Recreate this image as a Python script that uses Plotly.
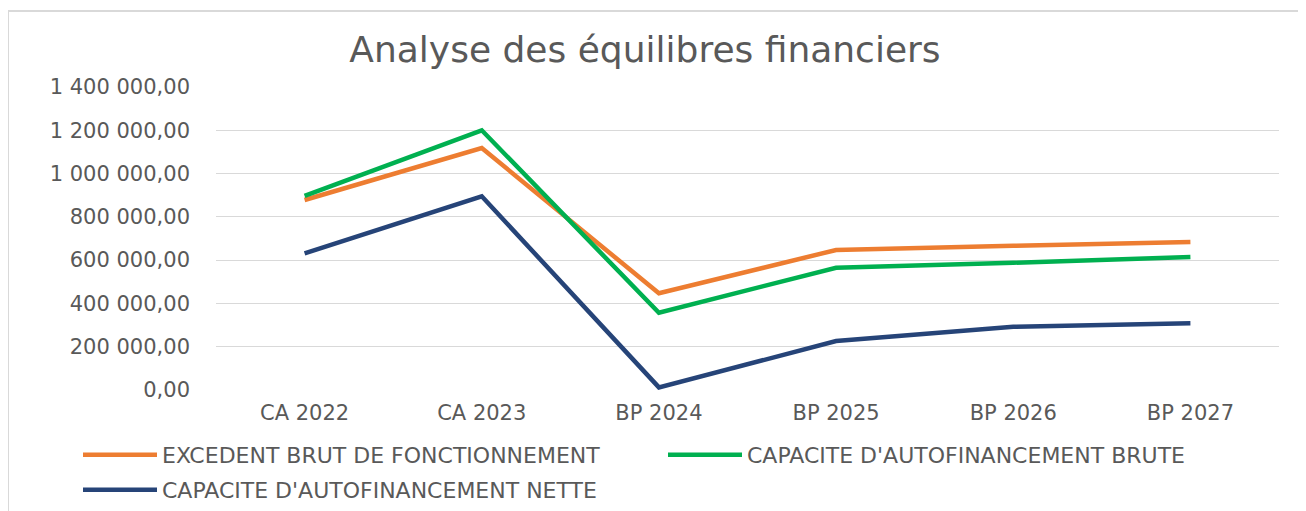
import plotly.graph_objects as go

categories = ["CA 2022", "CA 2023", "BP 2024", "BP 2025", "BP 2026", "BP 2027"]
ebf = [878000, 1118000, 447000, 647000, 666000, 684000]
caf_brute = [897000, 1200000, 357000, 565000, 588000, 614000]
caf_nette = [631000, 895000, 12000, 226000, 292000, 308000]

series_names = ["EXCEDENT BRUT DE FONCTIONNEMENT",
                "CAPACITE D'AUTOFINANCEMENT BRUTE",
                "CAPACITE D'AUTOFINANCEMENT NETTE"]
colors = ["#ED7D31", "#00B050", "#264478"]

W, H = 1306, 511
OFF = 8  # page body margin offset
L, R, T, B = 216, 1279, 87, 390  # plot area in screen pixels
pw, ph = R - L, B - T

def px(p):
    return (p - L) / pw

def py(p):
    return (B - p) / ph

FONT = "DejaVu Sans"
GREY = "#595959"

fig = go.Figure()
fig.add_trace(go.Scatter(x=categories, y=ebf, name=series_names[0], mode="lines",
                         line=dict(color=colors[0], width=4.5), legend="legend"))
fig.add_trace(go.Scatter(x=categories, y=caf_brute, name=series_names[1], mode="lines",
                         line=dict(color=colors[1], width=4.5), legend="legend3"))
fig.add_trace(go.Scatter(x=categories, y=caf_nette, name=series_names[2], mode="lines",
                         line=dict(color=colors[2], width=4.5), legend="legend2"))

leg_common = dict(orientation="h", xanchor="left", yanchor="middle", itemwidth=74,
                  font=dict(size=22, color=GREY), bgcolor="rgba(0,0,0,0)")

fig.update_layout(
    width=W, height=H,
    margin=dict(l=L - OFF, r=W - (R - OFF), t=T - OFF, b=H - (B - OFF), autoexpand=False),
    paper_bgcolor="white", plot_bgcolor="white",
    separators=", ",
    font=dict(family=FONT, color=GREY),
    title=dict(text="Analyse des équilibres financiers", x=(645 - OFF) / W, xref="container",
               xanchor="center", y=1 - (49 - OFF) / H, yref="container", yanchor="middle",
               font=dict(family=FONT, size=36, color=GREY)),
    xaxis=dict(type="category", range=[-0.5, 5.5], showgrid=False, zeroline=False,
               showline=False, ticks="", tickfont=dict(size=21, color=GREY),
               ticklabelstandoff=8),
    yaxis=dict(range=[0, 1400000], dtick=200000, tickformat=",.2f",
               showgrid=True, gridcolor="#d9d9d9", gridwidth=1.3,
               zeroline=False, showline=False, ticks="",
               tickfont=dict(size=21, color=GREY), ticklabelstandoff=25),
    legend=dict(x=px(78), y=py(455), **leg_common),
    legend3=dict(x=px(663), y=py(455), **leg_common),
    legend2=dict(x=px(78), y=py(490), **leg_common),
    shapes=[dict(type="rect", xref="paper", yref="paper",
                 x0=px(8), x1=px(1340), y0=py(540), y1=py(11),
                 line=dict(color="#d9d9d9", width=2), fillcolor="rgba(0,0,0,0)",
                 layer="below")],
    showlegend=True,
)

fig.write_html("out.html")
